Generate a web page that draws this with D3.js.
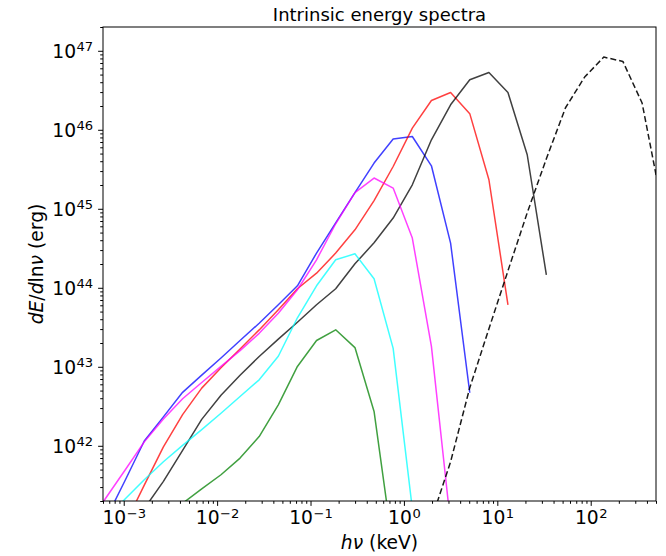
<!DOCTYPE html>
<html>
<head>
<meta charset="utf-8">
<script src="https://cdn.jsdelivr.net/npm/d3@7"></script>
<style>
  html, body { margin: 0; padding: 0; background: #fff; }
  svg { display: block; font-family: "DejaVu Sans", sans-serif; }
</style>
</head>
<body>
<svg id="chart" width="666" height="556"></svg>
<script>
// Photon energy grid (keV), log-spaced
const energyKeV = [4.03e-4, 6.46e-4, 1.04e-3, 1.66e-3, 2.66e-3, 4.27e-3, 6.84e-3, 1.10e-2, 1.76e-2, 2.82e-2,
  4.52e-2, 7.24e-2, 0.116, 0.186, 0.299, 0.479, 0.767, 1.23, 1.97, 3.16,
  5.07, 8.13, 13.0, 20.9, 33.5, 53.7, 86.1, 138, 221, 355, 569];

// dE/dln(nu) in erg for each spectrum, aligned with energyKeV (null = no value)
const specBlue = [null, 1.19e41, 3.69e41, 1.15e42, 2.32e42, 4.75e42, 7.85e42, 1.29e43, 2.15e43, 3.56e43,
  6.09e43, 1.06e44, 2.75e44, 6.65e44, 1.60e45, 3.79e45, 7.63e45, 8.22e45, 3.50e45, 3.68e44,
  4.69e42, null, null, null, null, null, null, null, null, null, null];
const specRed = [null, null, 1.03e41, 3.18e41, 9.71e41, 2.48e42, 5.37e42, 9.71e42, 1.68e43, 2.93e43,
  5.27e43, 9.71e43, 1.53e44, 2.75e44, 5.42e44, 1.27e45, 3.43e45, 1.05e46, 2.35e46, 2.96e46,
  1.60e46, 2.33e45, 6.09e43, null, null, null, null, null, null, null, null];
const specBlack = [null, null, null, 1.60e41, 3.55e41, 8.77e41, 2.16e42, 4.36e42, 7.83e42, 1.35e43,
  2.24e43, 3.66e43, 6.09e43, 9.71e43, 2.01e44, 3.71e44, 7.63e44, 2.01e45, 7.47e45, 2.07e46,
  4.30e46, 5.31e46, 2.96e46, 4.83e45, 1.46e44, null, null, null, null, null, null];
const specMagenta = [9.7e40, 2.20e41, 4.97e41, 1.12e42, 2.18e42, 3.94e42, 6.33e42, 1.01e43, 1.60e43, 2.65e43,
  4.75e43, 9.44e43, 2.26e44, 6.46e44, 1.60e45, 2.45e45, 1.83e45, 4.26e44, 1.81e43, 1.03e41,
  null, null, null, null, null, null, null, null, null, null, null];
const specCyan = [null, 1.19e41, 2.13e41, 3.72e41, 6.27e41, 1.01e42, 1.60e42, 2.58e42, 4.21e42, 6.84e42,
  1.36e43, 4.17e43, 1.06e44, 2.26e44, 2.69e44, 1.30e44, 1.71e43, 1.60e41, null, null,
  null, null, null, null, null, null, null, null, null, null, null];
const specGreen = [null, null, null, null, null, 1.87e41, 2.84e41, 4.30e41, 6.98e41, 1.31e42,
  3.30e42, 1.01e43, 2.15e43, 2.94e43, 1.75e43, 2.72e42, 4.83e40, null, null, null,
  null, null, null, null, null, null, null, null, null, null, null];
const specDashed = [null, null, null, null, null, null, null, null, null, null,
  null, null, null, null, null, null, null, null, 1.16e41, 6.27e41,
  5.42e42, 3.03e43, 1.64e44, 8.90e44, 4.30e45, 1.90e46, 4.65e46, 8.32e46, 7.33e46, 2.18e46,
  1.23e45];

// Axis tick values
const xMajorTicks = [1e-3, 1e-2, 1e-1, 1, 1e1, 1e2];
const yMajorTicks = [1e42, 1e43, 1e44, 1e45, 1e46, 1e47];

const titleText = "Intrinsic energy spectra";

const series = [
  { values: specBlue, color: "#0000ff", opacity: 0.75, dash: null },
  { values: specRed, color: "#ff0000", opacity: 0.75, dash: null },
  { values: specBlack, color: "#000000", opacity: 0.75, dash: null },
  { values: specMagenta, color: "#ff00ff", opacity: 0.75, dash: null },
  { values: specCyan, color: "#00ffff", opacity: 0.75, dash: null },
  { values: specGreen, color: "#008000", opacity: 0.75, dash: null },
  { values: specDashed, color: "#000000", opacity: 0.9, dash: "6,3" }
];

const svg = d3.select("#chart");
const plot = { left: 103, right: 656, top: 27, bottom: 501 };
const fontTick = 18.7, fontSup = 13.1, majorLen = 4.9, minorLen = 2.8, pad = 4.9;

const x = d3.scaleLog().domain([6e-4, 5e2]).range([plot.left, plot.right]);
const y = d3.scaleLog().domain([2e41, 2e47]).range([plot.bottom, plot.top]);

function minorTicks(scale) {
  const [a, b] = scale.domain();
  const out = [];
  for (let e = Math.floor(Math.log10(a)); e <= Math.ceil(Math.log10(b)); e++) {
    for (let k = 2; k <= 9; k++) {
      const v = k * Math.pow(10, e);
      if (v >= a * 0.9999 && v <= b * 1.0001) out.push(v);
    }
  }
  return out;
}

svg.append("clipPath").attr("id", "plotclip")
  .append("rect")
  .attr("x", plot.left).attr("y", plot.top)
  .attr("width", plot.right - plot.left).attr("height", plot.bottom - plot.top);

// Spectra
const lineGen = d3.line()
  .defined(d => d[1] != null)
  .x(d => x(d[0]))
  .y(d => y(d[1]));

const linesG = svg.append("g").attr("clip-path", "url(#plotclip)");
series.forEach(s => {
  linesG.append("path")
    .datum(energyKeV.map((e, i) => [e, s.values[i]]))
    .attr("d", lineGen)
    .attr("fill", "none")
    .attr("stroke", s.color)
    .attr("stroke-opacity", s.opacity)
    .attr("stroke-width", 1.5)
    .attr("stroke-linejoin", "round")
    .attr("stroke-dasharray", s.dash);
});

function expLabel(v) {
  const e = Math.round(Math.log10(v));
  return e < 0 ? "\u2212" + Math.abs(e) : String(e);
}

// X axis
const xMinorG = svg.append("g").attr("transform", `translate(0,${plot.bottom})`)
  .call(d3.axisBottom(x).tickValues(minorTicks(x)).tickSize(minorLen).tickFormat(""));
const xMajorG = svg.append("g").attr("transform", `translate(0,${plot.bottom})`)
  .call(d3.axisBottom(x).tickValues(xMajorTicks).tickSize(majorLen).tickPadding(pad).tickFormat(""));

// Y axis
const yMinorG = svg.append("g").attr("transform", `translate(${plot.left},0)`)
  .call(d3.axisLeft(y).tickValues(minorTicks(y)).tickSize(minorLen).tickFormat(""));
const yMajorG = svg.append("g").attr("transform", `translate(${plot.left},0)`)
  .call(d3.axisLeft(y).tickValues(yMajorTicks).tickSize(majorLen).tickPadding(pad).tickFormat(""));

[xMinorG, xMajorG, yMinorG, yMajorG].forEach(g => {
  g.select(".domain").remove();
  g.selectAll(".tick line").attr("stroke", "#000").attr("stroke-width", 1);
});

xMajorG.selectAll(".tick text").each(function (d) {
  const t = d3.select(this);
  t.text(null).attr("y", 23.3).attr("dy", null)
    .attr("font-size", fontTick).attr("fill", "#000")
    .attr("font-family", "DejaVu Sans").attr("text-anchor", "middle");
  t.append("tspan").text("10");
  t.append("tspan").attr("dy", -6.6).attr("dx", 0.5).attr("font-size", fontSup).text(expLabel(d));
});

yMajorG.selectAll(".tick text").each(function (d) {
  const t = d3.select(this);
  t.text(null).attr("x", -(majorLen + pad)).attr("y", 6.6).attr("dy", null)
    .attr("font-size", fontTick).attr("fill", "#000")
    .attr("font-family", "DejaVu Sans").attr("text-anchor", "end");
  t.append("tspan").text("10");
  t.append("tspan").attr("dy", -7.2).attr("dx", 0.5).attr("font-size", fontSup).text(expLabel(d));
});

// Frame
svg.append("rect")
  .attr("x", plot.left).attr("y", plot.top)
  .attr("width", plot.right - plot.left).attr("height", plot.bottom - plot.top)
  .attr("fill", "none").attr("stroke", "#000").attr("stroke-width", 1);

// Title
svg.append("text")
  .attr("x", (plot.left + plot.right) / 2).attr("y", 20.7)
  .attr("text-anchor", "middle").attr("font-size", 18).attr("fill", "#000")
  .text(titleText);

// X label: h nu (keV)
const xl = svg.append("text")
  .attr("x", (plot.left + plot.right) / 2).attr("y", 549)
  .attr("text-anchor", "middle").attr("font-size", 18.7).attr("fill", "#000");
xl.append("tspan").attr("font-style", "italic").text("h\u03bd");
xl.append("tspan").text(" (keV)");

// Y label: dE/dln nu (erg)
const yl = svg.append("text")
  .attr("transform", `translate(43,${(plot.top + plot.bottom) / 2}) rotate(-90)`)
  .attr("text-anchor", "middle").attr("font-size", 18.7).attr("fill", "#000");
yl.append("tspan").attr("font-style", "italic").text("dE");
yl.append("tspan").text("/");
yl.append("tspan").attr("font-style", "italic").text("d");
yl.append("tspan").text("ln");
yl.append("tspan").attr("font-style", "italic").text("\u03bd");
yl.append("tspan").text(" (erg)");
</script>
</body>
</html>
